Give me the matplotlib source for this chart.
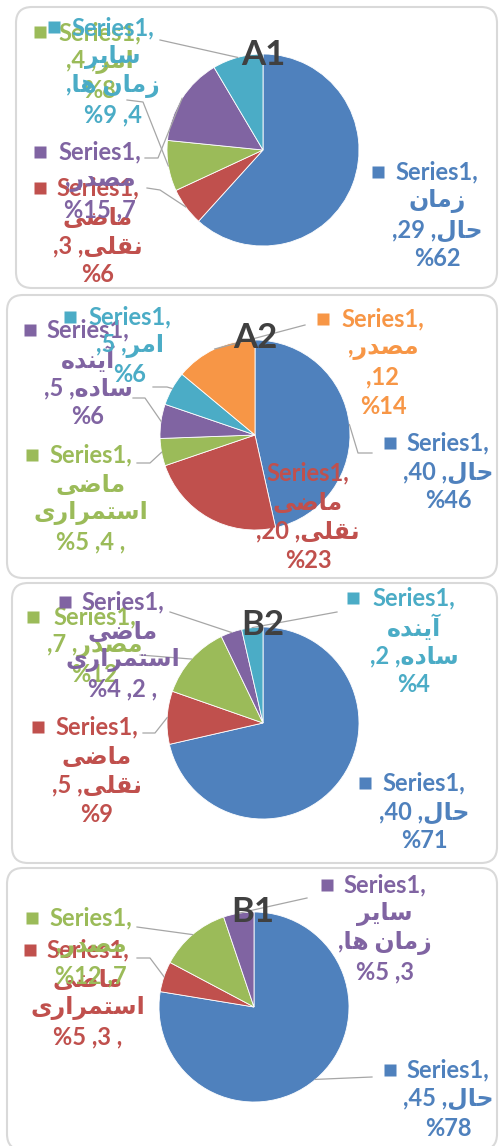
import matplotlib
matplotlib.use("Agg")
import matplotlib.pyplot as plt
from matplotlib.patches import FancyBboxPatch
import numpy as np

# Data
a1_cats = ["زمان حال", "ماضی نقلی", "امر", "مصدر", "سایر زمان ها"]
a1_vals = [29, 3, 4, 7, 4]
a1_pcts = [62, 6, 8, 15, 9]

a2_cats = ["حال", "ماضی نقلی", "ماضی استمراری", "آینده ساده", "امر", "مصدر"]
a2_vals = [40, 20, 4, 5, 5, 12]
a2_pcts = [46, 23, 5, 6, 6, 14]

b2_cats = ["حال", "ماضی نقلی", "مصدر", "ماضی استمراری", "آینده ساده"]
b2_vals = [40, 5, 7, 2, 2]
b2_pcts = [71, 9, 12, 4, 4]

b1_cats = ["حال", "ماضی استمراری", "مصدر", "سایر زمان ها"]
b1_vals = [45, 3, 7, 3]
b1_pcts = [78, 5, 12, 5]

titles = ["A1", "A2", "B2", "B1"]
colors = ["#4F81BD", "#C0504D", "#9BBB59", "#8064A2", "#4BACC6", "#F79646"]

# simple arabic shaping (matplotlib has no shaping of its own)
FORMS = {
    "ا": ("\uFE8D", "\uFE8E", None, None),
    "آ": ("\uFE81", "\uFE82", None, None),
    "د": ("\uFEA9", "\uFEAA", None, None),
    "ر": ("\uFEAD", "\uFEAE", None, None),
    "ز": ("\uFEAF", "\uFEB0", None, None),
    "ت": ("\uFE95", "\uFE96", "\uFE97", "\uFE98"),
    "ح": ("\uFEA1", "\uFEA2", "\uFEA3", "\uFEA4"),
    "س": ("\uFEB1", "\uFEB2", "\uFEB3", "\uFEB4"),
    "ص": ("\uFEB9", "\uFEBA", "\uFEBB", "\uFEBC"),
    "ض": ("\uFEBD", "\uFEBE", "\uFEBF", "\uFEC0"),
    "ق": ("\uFED5", "\uFED6", "\uFED7", "\uFED8"),
    "ل": ("\uFEDD", "\uFEDE", "\uFEDF", "\uFEE0"),
    "م": ("\uFEE1", "\uFEE2", "\uFEE3", "\uFEE4"),
    "ن": ("\uFEE5", "\uFEE6", "\uFEE7", "\uFEE8"),
    "ه": ("\uFEE9", "\uFEEA", "\uFEEB", "\uFEEC"),
    "ی": ("\uFBFC", "\uFBFD", "\uFBFE", "\uFBFF"),
}


def shape(word):
    out = []
    for i, ch in enumerate(word):
        f = FORMS.get(ch)
        if f is None:
            out.append(ch)
            continue
        prev = word[i - 1] if i > 0 else None
        nxt = word[i + 1] if i + 1 < len(word) else None
        jp = prev in FORMS and FORMS[prev][2] is not None
        jn = nxt in FORMS and f[2] is not None
        if jp and jn:
            out.append(f[3])
        elif jp:
            out.append(f[1])
        elif jn:
            out.append(f[2])
        else:
            out.append(f[0])
    return "".join(reversed(out))


# label line templates (visual order, as Excel showed them)
T_A = ["Series1,", "{w0}", ",{v} ,{rest}", "%{p}"]
T_B = ["Series1,", ",{v} ,{w0}", "%{p}"]
T_C = ["Series1,", "{w0}", "{rest}", "%{p} ,{v} ,"]
T_D = ["Series1,", "{w0}", ",{rest}", "%{p} ,{v}"]
T_E = ["Series1,", ",{w0}", "%{p} ,{v}"]
T_F = ["Series1,", ",{w0}", ",{v}", "%{p}"]

# panel layout: box (left, top, bottom), pie center, radius, title pos
panels = [
    dict(cats=a1_cats, vals=a1_vals, pcts=a1_pcts, box=(16, 7, 288), c=(263, 150), r=96, tp=(263, 55),
         labels=[(T_A, (378, 172), 437, 172, []),
                 (T_A, (40, 188), 98, 188, [(147, 188), (160, 190)]),
                 (T_B, (40, 32), 100, 33, [(127, 100), (143, 102)]),
                 (T_E, (40, 152), 100, 152, [(145, 158), (158, 158)]),
                 (T_D, (54, 27), 113, 28, [(160, 40)])]),
    dict(cats=a2_cats, vals=a2_vals, pcts=a2_pcts, box=(7, 295, 578), c=(255, 435), r=95, tp=(255, 338),
         labels=[(T_B, (390, 443), 448, 443, [(372, 453), (358, 453)]),
                 (T_A, None, 308, 473, []),
                 (T_C, (32, 455), 91, 455, [(137, 463), (150, 463)]),
                 (T_A, (30, 330), 88, 330, [(133, 398), (145, 398)]),
                 (T_B, (70, 317), 130, 317, [(153, 387), (167, 387)]),
                 (T_F, (323, 319), 383, 319, [(305, 325)])]),
    dict(cats=b2_cats, vals=b2_vals, pcts=b2_pcts, box=(12, 583, 863), c=(263, 723), r=96, tp=(263, 625),
         labels=[(T_B, (365, 783), 424, 783, []),
                 (T_A, (38, 727), 97, 727, [(143, 733), (155, 733)]),
                 (T_B, (33, 617), 95, 617, [(140, 655)]),
                 (T_C, (65, 602), 123, 602, [(170, 612)]),
                 (T_A, (353, 598), 414, 598, [(337, 612)])]),
    dict(cats=b1_cats, vals=b1_vals, pcts=b1_pcts, box=(7, 868, 1150), c=(254, 1007), r=95, tp=(253, 912),
         labels=[(T_B, (390, 1070), 448, 1070, [(372, 1077)]),
                 (T_C, (30, 950), 88, 950, [(137, 958), (150, 958)]),
                 (T_E, (32, 918), 91, 918, [(137, 927)]),
                 (T_D, (327, 885), 385, 885, [(307, 898)])]),
]

W, H = 499, 1146
fig = plt.figure(figsize=(W / 100, H / 100), dpi=100)
ax = fig.add_axes([0, 0, 1, 1])

FAM = ["Lato", "DejaVu Sans"]
GAP = 29

for i, p in enumerate(panels):
    left, top, bottom = p["box"]
    ax.add_patch(FancyBboxPatch((left, top), 497 - left, bottom - top,
                                boxstyle="round,pad=0,rounding_size=16",
                                fc="white", ec="#D9D9D9", lw=1.5, zorder=0))
    cols = colors[:len(p["vals"])]
    # y axis is inverted: counterclockwise in data = clockwise on screen
    wedges, _ = ax.pie(p["vals"], colors=cols, center=p["c"], radius=p["r"],
                       startangle=-90, counterclock=True, frame=True,
                       wedgeprops=dict(linewidth=0.6, edgecolor="white"))
    for k, (tpl, mk, cx, y0, lead) in enumerate(p["labels"]):
        w = wedges[k]
        mid = np.deg2rad((w.theta1 + w.theta2) / 2)
        if lead:
            end = (p["c"][0] + p["r"] * np.cos(mid), p["c"][1] + p["r"] * np.sin(mid))
            pts = lead + [end]
            ax.plot([q[0] for q in pts], [q[1] for q in pts], color="#A6A6A6", lw=0.9, zorder=3)
        words = p["cats"][k].split(" ")
        fields = dict(w0=shape(words[0]), rest=shape(" ".join(words[1:])),
                      v=p["vals"][k], p=p["pcts"][k])
        if mk is not None:
            ax.plot(mk[0], mk[1], marker="s", ms=8, color=cols[k], mec="none", zorder=4)
        for j, line in enumerate(tpl):
            ax.text(cx, y0 + j * GAP, line.format(**fields), ha="center", va="center",
                    fontsize=17, fontweight="bold", color=cols[k], family=FAM, zorder=4)
    ax.text(p["tp"][0], p["tp"][1], titles[i], ha="center", va="center",
            fontsize=25, fontweight="bold", color="#404040", family=FAM, zorder=5)

ax.set_xlim(0, W)
ax.set_ylim(H, 0)
ax.set_aspect("auto")
ax.axis("off")
fig.savefig("out.png", dpi=100)
